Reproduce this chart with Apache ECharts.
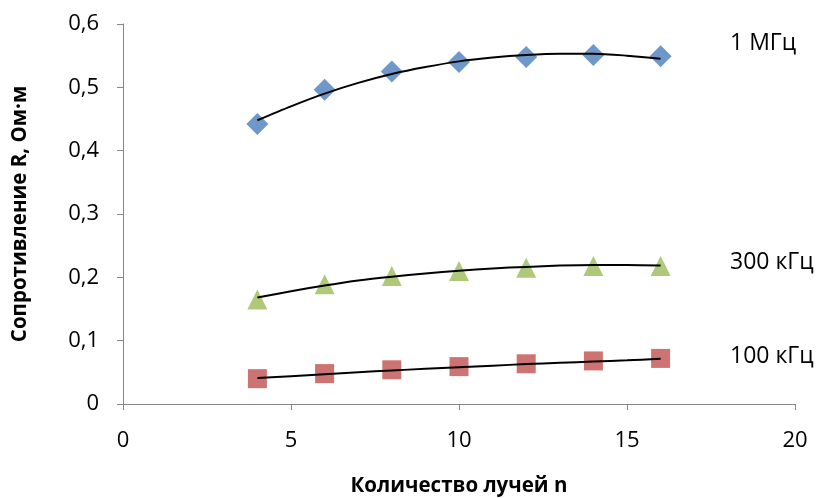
<!DOCTYPE html>
<html><head><meta charset="utf-8">
<script src="https://cdn.jsdelivr.net/npm/echarts@6/dist/echarts.min.js"></script>
<style>html,body{margin:0;padding:0;background:#fff}#c{width:823px;height:498px}</style>
</head><body><div id="c"></div>
<script>
var xValues = [4, 6, 8, 10, 12, 14, 16];
var r1MHz   = [0.442, 0.496, 0.525, 0.540, 0.548, 0.551, 0.549];
var r300kHz = [0.165, 0.189, 0.202, 0.210, 0.215, 0.218, 0.218];
var r100kHz = [0.040, 0.048, 0.054, 0.059, 0.0635, 0.068, 0.072];
var trendX      = [4, 5, 6, 7, 8, 9, 10, 11, 12, 13, 14, 15, 16];
var trend1MHz   = [0.448, 0.470, 0.490, 0.507, 0.521, 0.532, 0.541, 0.547, 0.551, 0.553, 0.553, 0.550, 0.545];
var trend300kHz = [0.168, 0.178, 0.187, 0.195, 0.201, 0.206, 0.2105, 0.214, 0.2165, 0.2185, 0.2195, 0.2195, 0.2185];
var trend100kHz = [0.041, 0.044, 0.047, 0.050, 0.053, 0.0555, 0.058, 0.0605, 0.063, 0.065, 0.067, 0.069, 0.0715];
var seriesNames = ['1 МГц', '300 кГц', '100 кГц'];

function pairs(xs, ys){ return xs.map(function(x,i){ return [x, ys[i]]; }); }
var FONT = 'Open Sans';
function scatter(name, ys, symbol, size, color){
  return {name:name, type:'scatter', data:pairs(xValues, ys), symbol:symbol, symbolSize:size,
    itemStyle:{color:color}, z:3};
}
function trend(ys){
  return {type:'line', data:pairs(trendX, ys), smooth:0.3, symbol:'none',
    lineStyle:{color:'#000', width:2}, z:4, silent:true};
}
var chart = echarts.init(document.getElementById('c'));
chart.setOption({
  animation:false,
  backgroundColor:'#fff',
  grid:{left:123, right:28, top:24, bottom:94, containLabel:false, outerBoundsMode:'none'},
  xAxis:{type:'value', min:0, max:20, interval:5,
    name:'Количество лучей n', nameLocation:'middle', nameGap:72,
    nameTextStyle:{fontFamily:FONT, fontSize:20.5, fontWeight:'bold', color:'#000'},
    axisLine:{show:true, lineStyle:{color:'#868686', width:1}},
    axisTick:{show:true, inside:false, length:6, lineStyle:{color:'#868686'}},
    axisLabel:{margin:26, fontFamily:FONT, fontSize:22, color:'#000'},
    splitLine:{show:false}},
  yAxis:{type:'value', min:0, max:0.6, interval:0.1,
    name:'Сопротивление R, Ом·м', nameLocation:'middle', nameGap:92, nameRotate:90,
    nameTextStyle:{fontFamily:FONT, fontSize:20.5, fontWeight:'bold', color:'#000'},
    axisLine:{show:true, lineStyle:{color:'#868686', width:1}},
    axisTick:{show:true, length:6, lineStyle:{color:'#868686'}},
    axisLabel:{margin:24, fontFamily:FONT, fontSize:22, color:'#000',
      formatter:function(v){ return String(+v.toFixed(1)).replace('.', ','); }},
    splitLine:{show:false}},
  series:[
    scatter(seriesNames[0], r1MHz, 'diamond', 22, '#4A7EBB'),
    scatter(seriesNames[1], r300kHz, 'triangle', 20, '#9BBB59'),
    scatter(seriesNames[2], r100kHz, 'rect', 19, '#C0504D'),
    trend(trend1MHz), trend(trend300kHz), trend(trend100kHz)
  ],
  graphic:[
    {type:'text', x:730, y:43, style:{text:seriesNames[0], font:'23px "Open Sans"', fill:'#000', verticalAlign:'middle'}},
    {type:'text', x:730, y:262, style:{text:seriesNames[1], font:'23px "Open Sans"', fill:'#000', verticalAlign:'middle'}},
    {type:'text', x:730, y:356, style:{text:seriesNames[2], font:'23px "Open Sans"', fill:'#000', verticalAlign:'middle'}}
  ]
});
</script></body></html>
